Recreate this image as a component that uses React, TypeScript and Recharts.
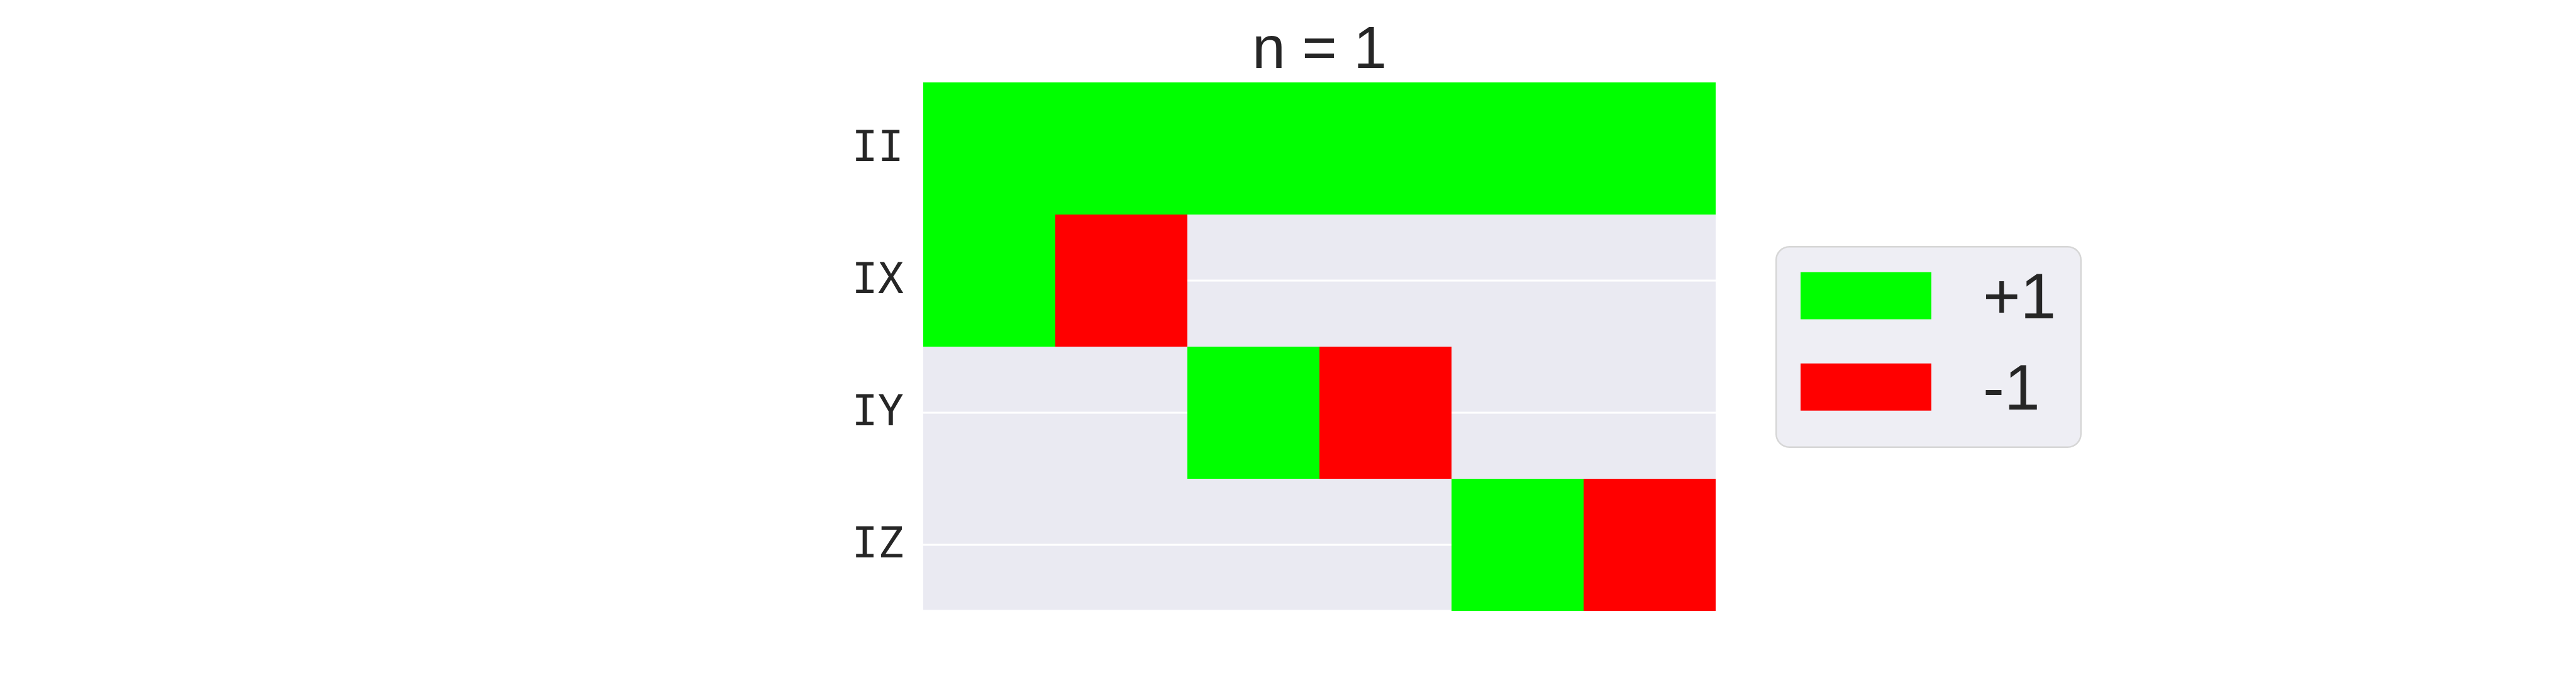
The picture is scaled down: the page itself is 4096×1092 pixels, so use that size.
import React from 'react';
import { BarChart, Bar, XAxis, YAxis, CartesianGrid, Cell, Legend } from 'recharts';

// ---- data ----
const rowLabels = ['II', 'IX', 'IY', 'IZ'];
const columnKeys = ['c0', 'c1', 'c2', 'c3', 'c4', 'c5'];
const rowII = [1, 1, 1, 1, 1, 1];
const rowIX = [1, -1, 0, 0, 0, 0];
const rowIY = [0, 0, 1, -1, 0, 0];
const rowIZ = [0, 0, 0, 0, 1, -1];
const cellValues = [rowII, rowIX, rowIY, rowIZ];
const legendValues = [1, -1];
const legendLabels = ['+1', '-1'];
const titleText = 'n = 1';

// ---- styling ----
const POS = '#00FF00';
const NEG = '#FF0000';
const TEXT = '#262626';
const SANS = "'Liberation Sans', Arial, Helvetica, sans-serif";
const MONO = "'DejaVu Sans Mono', 'Liberation Mono', monospace";
const colorFor = (v: number) => (v > 0 ? POS : v < 0 ? NEG : 'transparent');

const chartData = rowLabels.map((row) => {
  const d: Record<string, any> = { row };
  columnKeys.forEach((k) => {
    d[k] = 1;
  });
  return d;
});

const YTick = (props: any) => {
  const { x, y, payload } = props;
  return (
    <text
      x={x}
      y={y + 20}
      textAnchor="end"
      style={{ fontFamily: MONO, fontSize: 68.5 }}
      fill={TEXT}
    >
      {payload.value}
    </text>
  );
};

const LEG_W = 487;
const LEG_H = 321;

const renderLegend = () => (
  <svg width={LEG_W} height={LEG_H} style={{ display: 'block', overflow: 'visible' }}>
    <rect
      x={1.25}
      y={1.25}
      width={LEG_W - 2.5}
      height={LEG_H - 2.5}
      rx={21}
      ry={21}
      fill="#EEEEF4"
      stroke="#D6D6D6"
      strokeWidth={2.5}
    />
    {legendValues.map((v, i) => (
      <g key={i}>
        <rect x={40} y={41.5 + i * 145.2} width={208} height={75} fill={colorFor(v)} />
        <text
          x={330}
          y={114.7 + i * 145}
          style={{ fontFamily: SANS, fontSize: 102 }}
          fill={TEXT}
        >
          {legendLabels[i]}
        </text>
      </g>
    ))}
  </svg>
);

export default function App() {
  return (
    <div style={{ position: 'absolute', left: 0, top: 0, width: 4096, height: 1092, background: '#FFFFFF' }}>
      <BarChart
        width={4096}
        height={1092}
        data={chartData}
        layout="vertical"
        barCategoryGap={0}
        barGap={0}
        margin={{ top: 131, right: 1368, bottom: 121, left: 1268 }}
      >
        <CartesianGrid vertical={false} stroke="#FFFFFF" strokeWidth={3} fill="#EAEAF2" fillOpacity={1} />
        <XAxis type="number" domain={[0, columnKeys.length]} hide />
        <YAxis
          type="category"
          dataKey="row"
          width={200}
          tickLine={false}
          axisLine={false}
          tickSize={0}
          tickMargin={31}
          tick={<YTick />}
        />
        {columnKeys.map((k, j) => (
          <Bar key={k} dataKey={k} stackId="cells" isAnimationActive={false}>
            {cellValues.map((r, i) => (
              <Cell key={i} fill={colorFor(r[j])} shapeRendering="crispEdges" />
            ))}
          </Bar>
        ))}
        <Legend
          layout="vertical"
          align="center"
          verticalAlign="middle"
          content={renderLegend}
          wrapperStyle={{ left: 2823, top: 391, width: LEG_W, height: LEG_H }}
        />
        <text
          x={2098}
          y={108}
          textAnchor="middle"
          style={{ fontFamily: SANS, fontSize: 95 }}
          fill={TEXT}
        >
          {titleText}
        </text>
      </BarChart>
    </div>
  );
}
